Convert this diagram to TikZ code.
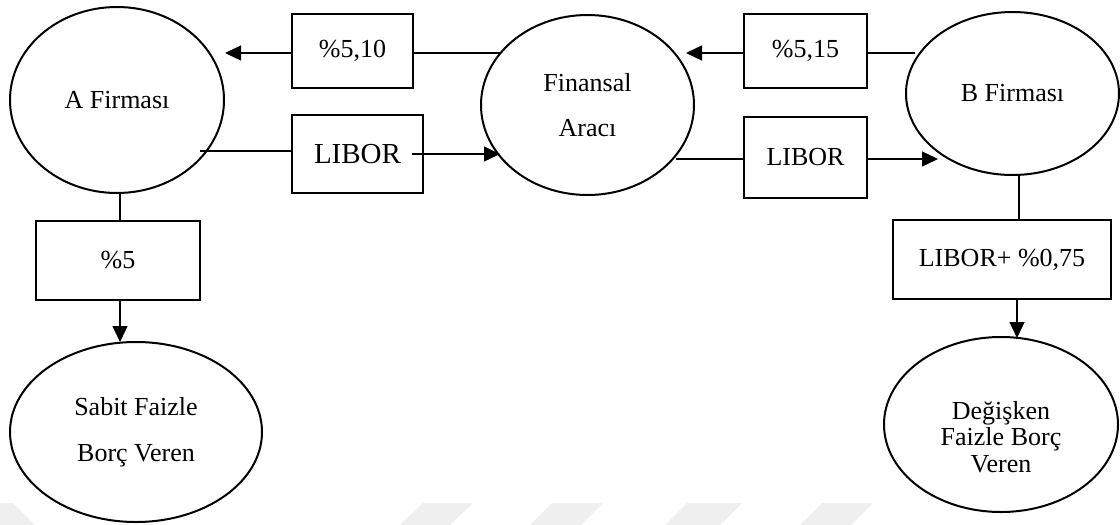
\documentclass[tikz,border=0pt]{standalone}
\usepackage{fontspec}
\setmainfont{Liberation Serif}
\usetikzlibrary{shapes.geometric,arrows.meta}
\definecolor{wm}{HTML}{EFEFEF}
\begin{document}
\begin{tikzpicture}[x=1pt,y=-1pt,
  oval/.style={ellipse,draw,line width=2pt,inner sep=0pt,align=center,
    font=\fontsize{26}{45}\selectfont},
  rbox/.style={rectangle,draw,line width=2.6pt,inner sep=0pt,
    font=\fontsize{26}{30}\selectfont},
  conn/.style={line width=1.3pt},
  arr/.style={conn,-{Triangle[length=16pt,width=15pt]}}]
\useasboundingbox (0,0) rectangle (1120,525);
% faint watermark shapes
\fill[wm] (0,503) -- (13,503) -- (35,525) -- (0,525) -- cycle;
\fill[wm] (400,525) -- (423,503) -- (473,503) -- (450,525) -- cycle;
\fill[wm] (530,525) -- (552,503) -- (603,503) -- (581,525) -- cycle;
\fill[wm] (665,525) -- (687,503) -- (742,503) -- (720,525) -- cycle;
\fill[wm] (800,525) -- (822,503) -- (873,503) -- (851,525) -- cycle;
% ellipses
\node[oval,minimum width=214pt,minimum height=186pt] (A) at (117,100) {A Firması};
\node[oval,minimum width=213pt,minimum height=180pt] (F) at (587.5,105) {Finansal\\Aracı};
\node[oval,minimum width=213pt,minimum height=163pt] (B) at (1012.5,93.5) {B Firması};
\node[oval,minimum width=252pt,minimum height=180pt,font=\fontsize{26}{46}\selectfont] (S) at (136,432) {Sabit Faizle\\Borç Veren};
\node[oval,minimum width=234pt,minimum height=175pt,font=\fontsize{26}{26.5}\selectfont] (D) at (1001,424.5) {\rule{0pt}{43pt}Değişken\\Faizle Borç\\Veren};
% boxes
\node[rbox,minimum width=121pt,minimum height=74pt] (b1) at (352.5,51) {\%5,10};
\node[rbox,minimum width=131pt,minimum height=78pt,font=\fontsize{29}{32}\selectfont] (l1) at (357.5,154) {LIBOR};
\node[rbox,minimum width=123pt,minimum height=74pt] (b2) at (805.5,51) {\%5,15};
\node[rbox,minimum width=123pt,minimum height=81pt] (l2) at (805.5,157.5) {LIBOR};
\node[rbox,minimum width=164pt,minimum height=79pt] (b5) at (118,260.5) {\%5};
\node[rbox,minimum width=218pt,minimum height=79pt] (bl) at (1002,259.5) {LIBOR+ \%0,75};
% connector end points
\coordinate (p1) at (500,53);
\coordinate (p2) at (225,53);
\coordinate (p3) at (200,151);
\coordinate (p4) at (412,154);
\coordinate (p5) at (500,154);
\coordinate (p6) at (686,53);
\coordinate (p7) at (915,53);
\coordinate (p8) at (676,159);
\coordinate (p9) at (938,159);
\coordinate (p10) at (1019,174);
\coordinate (p11) at (1017,338);
\coordinate (p12) at (120,342);
% connectors
\draw[conn] (p1) -- (b1.east |- p1);
\draw[arr] (b1.west |- p2) -- (p2);
\draw[conn] (p3) -- (l1.west |- p3);
\draw[arr] (p4) -- (p5);
\draw[arr] (b2.west |- p6) -- (p6);
\draw[conn] (b2.east |- p7) -- (p7);
\draw[conn] (p8) -- (l2.west |- p8);
\draw[arr] (l2.east |- p9) -- (p9);
\draw[conn] (p10) -- (p10 |- bl.north);
\draw[arr] (p11 |- bl.south) -- (p11);
\draw[conn] (p12 |- A.south) -- (p12 |- b5.north);
\draw[arr] (p12 |- b5.south) -- (p12);
\end{tikzpicture}
\end{document}
